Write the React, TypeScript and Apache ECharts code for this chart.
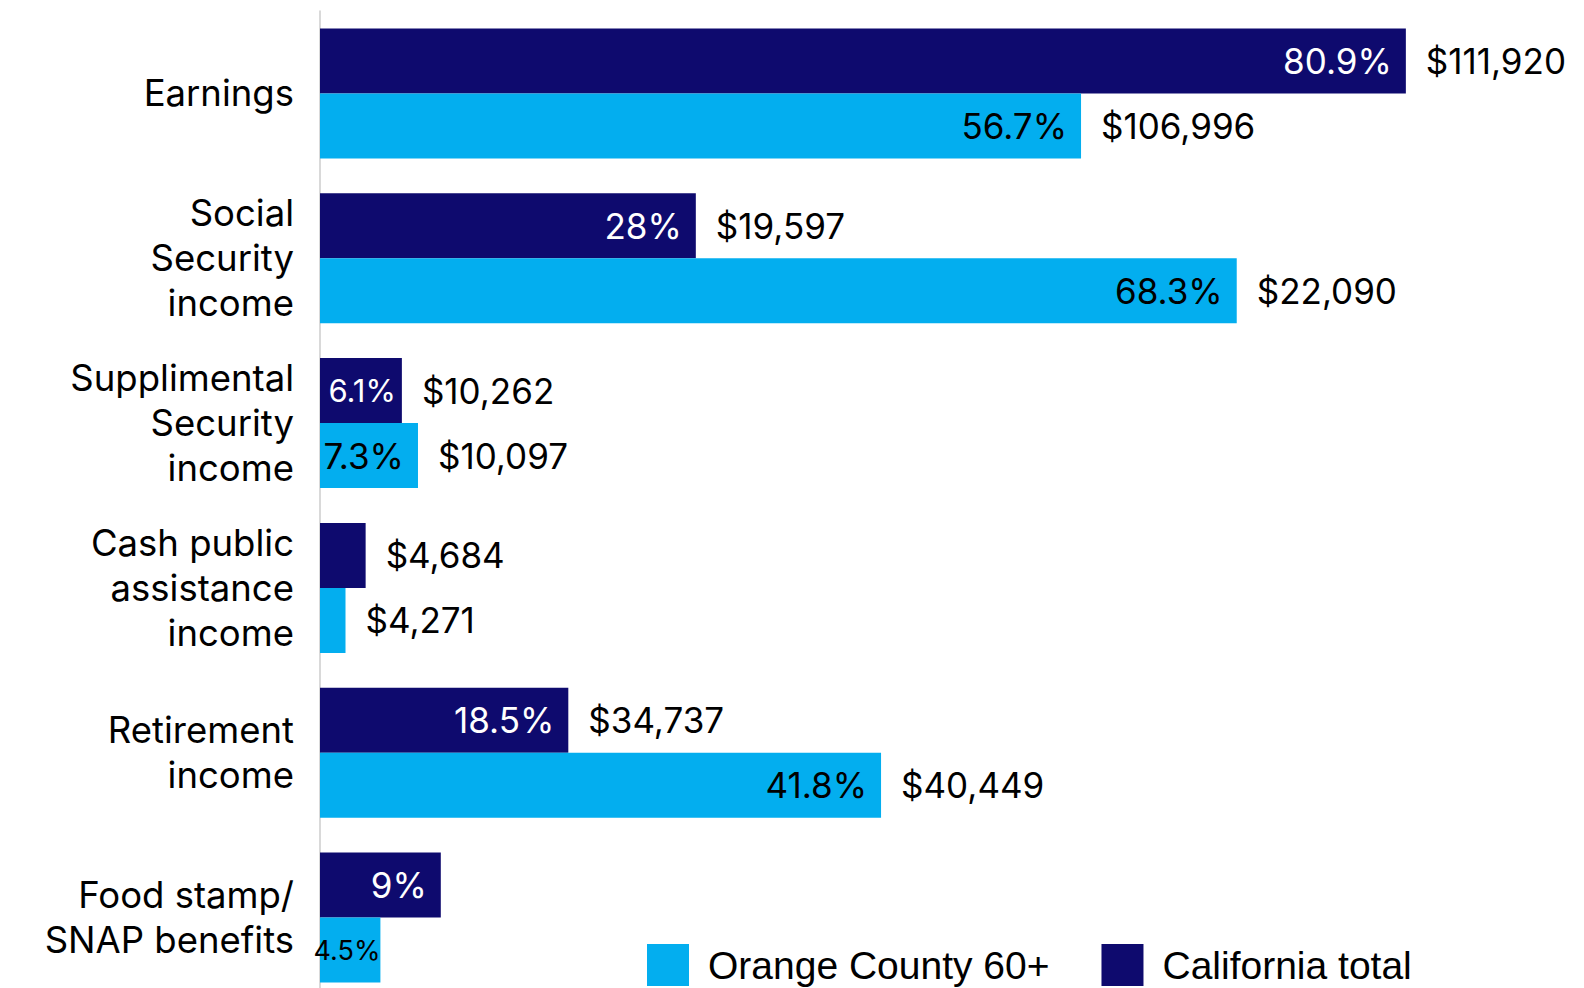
import React, { useEffect, useRef } from "react";
import * as echarts from "echarts";

const categories = [
  "Earnings",
  "Social\nSecurity\nincome",
  "Supplimental\nSecurity\nincome",
  "Cash public\nassistance\nincome",
  "Retirement\nincome",
  "Food stamp/\nSNAP benefits",
];
const caShare = [80.9, 28, 6.1, 3.4, 18.5, 9];
const ocShare = [56.7, 68.3, 7.3, 1.9, 41.8, 4.5];
const caShareLabels = ["80.9%", "28%", "6.1%", "", "18.5%", "9%"];
const ocShareLabels = ["56.7%", "68.3%", "7.3%", "", "41.8%", "4.5%"];
const caIncome = ["$111,920", "$19,597", "$10,262", "$4,684", "$34,737", ""];
const ocIncome = ["$106,996", "$22,090", "$10,097", "$4,271", "$40,449", ""];
const zeros = [0, 0, 0, 0, 0, 0];

const CA = "#0E0A6E";
const OC = "#03AEEF";
const FONT = "Inter, 'Noto Sans', sans-serif";

export default function App() {
  const ref = useRef<HTMLDivElement>(null);
  useEffect(() => {
    if (!ref.current) return;
    const chart = echarts.init(ref.current, undefined, { renderer: "svg" });
    const pctLabel = (labels: string[], color: string) => ({
      show: true,
      position: "insideRight",
      distance: 14,
      color,
      fontFamily: FONT,
      fontSize: 35,
      formatter: (p: any) => labels[p.dataIndex],
    });
    const incomeLabel = (labels: string[]) => ({
      show: true,
      position: "right",
      distance: 20,
      color: "#000",
      fontFamily: FONT,
      fontSize: 35,
      formatter: (p: any) => labels[p.dataIndex],
    });
    const small = (i: number) =>
      i === 2
        ? { fontSize: 31, distance: 6 }
        : i === 5
        ? { fontSize: 27, distance: 0 }
        : null;
    const withLabel = (arr: number[], smallIdx: number[]) =>
      arr.map((v, i) =>
        smallIdx.includes(i) && small(i) ? { value: v, label: small(i) } : v
      );
    chart.setOption({
      animation: false,
      backgroundColor: "#fff",
      grid: { left: 320, right: 56, top: 11, bottom: -1, containLabel: false },
      legend: {
        data: ["Orange County 60+", "California total"],
        left: 647,
        top: 944,
        padding: 0,
        icon: "rect",
        itemWidth: 42,
        itemHeight: 42,
        itemGap: 52,
        selectedMode: false,
        textStyle: {
          fontFamily: "'Liberation Sans', Arial, sans-serif",
          fontSize: 39,
          color: "#000",
          padding: [0, 0, 12, 14],
        },
      },
      xAxis: {
        type: "value",
        min: 0,
        max: 90,
        show: false,
      },
      yAxis: {
        type: "category",
        data: categories,
        inverse: true,
        axisLine: { show: true, lineStyle: { color: "#cccccc", width: 1.5 } },
        axisTick: { show: false },
        axisLabel: {
          color: "#000",
          fontFamily: FONT,
          fontSize: 36.5,
          lineHeight: 45,
          margin: 26,
          align: "right",
          padding: [6, 0, 0, 0],
        },
      },
      series: [
        {
          name: "California total",
          type: "bar",
          stack: "ca",
          data: withLabel(caShare, [2]),
          barWidth: 65,
          barGap: "0%",
          itemStyle: { color: CA },
          label: pctLabel(caShareLabels, "#fff"),
        },
        {
          name: "ca-income",
          type: "bar",
          stack: "ca",
          data: zeros,
          barWidth: 65,
          barGap: "0%",
          itemStyle: { color: "rgba(0,0,0,0)" },
          label: incomeLabel(caIncome),
        },
        {
          name: "Orange County 60+",
          type: "bar",
          stack: "oc",
          data: withLabel(ocShare, [5]),
          barWidth: 65,
          barGap: "0%",
          itemStyle: { color: OC },
          label: pctLabel(ocShareLabels, "#000"),
        },
        {
          name: "oc-income",
          type: "bar",
          stack: "oc",
          data: zeros,
          barWidth: 65,
          barGap: "0%",
          itemStyle: { color: "rgba(0,0,0,0)" },
          label: incomeLabel(ocIncome),
        },
      ],
    });
    return () => chart.dispose();
  }, []);
  return (
    <div
      ref={ref}
      style={{ position: "absolute", left: 0, top: 0, width: 1584, height: 1000 }}
    />
  );
}
